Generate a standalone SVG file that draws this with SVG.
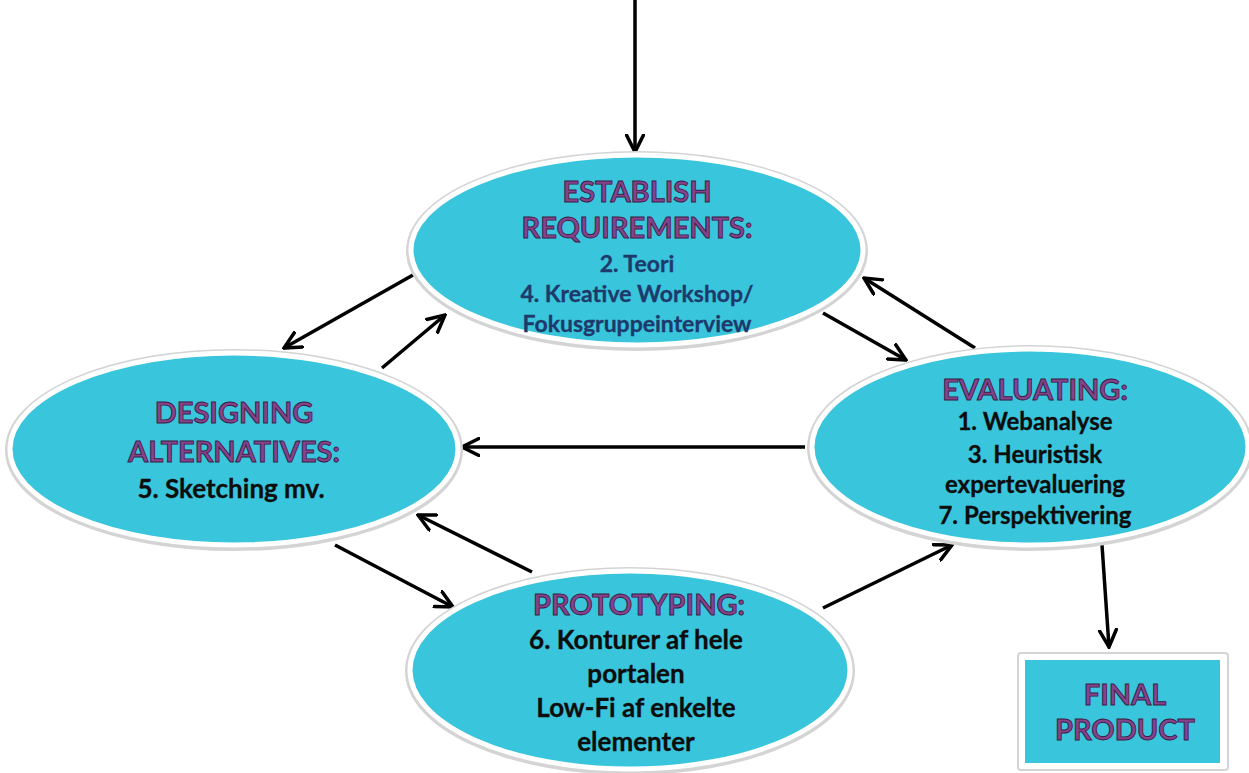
<svg xmlns="http://www.w3.org/2000/svg" width="1249" height="773" viewBox="0 0 1249 773">
<defs>
<marker id="ah" viewBox="0 0 20 20" refX="18" refY="10" markerWidth="20" markerHeight="20" markerUnits="userSpaceOnUse" orient="auto">
<path d="M1,1.5 L18,10 L1,18.5" fill="none" stroke="#000" stroke-width="3.5" stroke-linecap="round" stroke-linejoin="miter"/>
</marker>
</defs>
<style>
.sh{fill:none;stroke:#d4d4d4;stroke-width:8}
.el{fill:#39C5DB;stroke:#fff;stroke-width:5}
.t{font-family:Lato,"Open Sans","Liberation Sans",sans-serif;font-weight:bold;text-anchor:middle}
.ti{font-size:29px;fill:#86438C;stroke:#3b1c45;stroke-width:0.9}
.b{fill:#0d0d0d;stroke:#0d0d0d;stroke-width:0.3}
.bn{font-size:23px;fill:#1E3A6B;stroke:#1E3A6B;stroke-width:0.3}
.c{fill:none;stroke:#000;stroke-width:3.5;marker-end:url(#ah)}
</style>
<rect width="1249" height="773" fill="#fff"/>
<g id="connectors">
<line class="c" x1="635" y1="0" x2="635" y2="152"/>
<line class="c" x1="413" y1="275" x2="284" y2="348"/>
<line class="c" x1="382" y1="368" x2="445" y2="315"/>
<line class="c" x1="823" y1="313" x2="906" y2="360"/>
<line class="c" x1="975" y1="348" x2="864" y2="278"/>
<line class="c" x1="805" y1="447" x2="462" y2="447"/>
<line class="c" x1="335" y1="545" x2="453" y2="607"/>
<line class="c" x1="532" y1="572" x2="418" y2="515"/>
<line class="c" x1="823" y1="608" x2="952" y2="545"/>
<line class="c" x1="1102" y1="545" x2="1109" y2="647"/>
</g>
<g id="establish">
<ellipse class="sh" cx="637" cy="251" rx="227" ry="96"/>
<ellipse class="el" cx="637" cy="250" rx="226" ry="95"/>
<text class="t ti" x="637" y="202">ESTABLISH</text>
<text class="t ti" x="637" y="238">REQUIREMENTS:</text>
<text class="t bn" x="637" y="272">2. Teori</text>
<text class="t bn" x="637" y="302">4. Kreative Workshop/</text>
<text class="t bn" x="637" y="332">Fokusgruppeinterview</text>
</g>
<g id="designing">
<ellipse class="sh" cx="234" cy="450" rx="225" ry="97"/>
<ellipse class="el" cx="234" cy="449" rx="224" ry="96"/>
<text class="t ti" x="234" y="423">DESIGNING</text>
<text class="t ti" x="234" y="462">ALTERNATIVES:</text>
<text class="t b" x="231" y="498" font-size="26">5. Sketching mv.</text>
</g>
<g id="evaluating">
<ellipse class="sh" cx="1030" cy="448" rx="219" ry="99"/>
<ellipse class="el" cx="1030" cy="447" rx="218" ry="98"/>
<text class="t ti" x="1035" y="400">EVALUATING:</text>
<text class="t b" x="1035" y="430" font-size="24">1. Webanalyse</text>
<text class="t b" x="1035" y="463" font-size="24">3. Heuristisk</text>
<text class="t b" x="1035" y="493" font-size="24">expertevaluering</text>
<text class="t b" x="1035" y="524" font-size="24">7. Perspektivering</text>
</g>
<g id="prototyping">
<ellipse class="sh" cx="630" cy="671" rx="221" ry="100"/>
<ellipse class="el" cx="630" cy="670" rx="220" ry="99"/>
<text class="t ti" x="639" y="615">PROTOTYPING:</text>
<text class="t b" x="636" y="649" font-size="26">6. Konturer af hele</text>
<text class="t b" x="636" y="683" font-size="26">portalen</text>
<text class="t b" x="636" y="717" font-size="26">Low-Fi af enkelte</text>
<text class="t b" x="636" y="751" font-size="26">elementer</text>
</g>
<g id="final">
<rect x="1018" y="653" width="210" height="117" rx="3" fill="#fff" stroke="#d4d4d4" stroke-width="2"/>
<rect x="1025" y="660" width="195" height="103" fill="#39C5DB"/>
<text class="t ti" x="1125" y="705" font-size="27">FINAL</text>
<text class="t ti" x="1125" y="740" font-size="27">PRODUCT</text>
</g>
</svg>
